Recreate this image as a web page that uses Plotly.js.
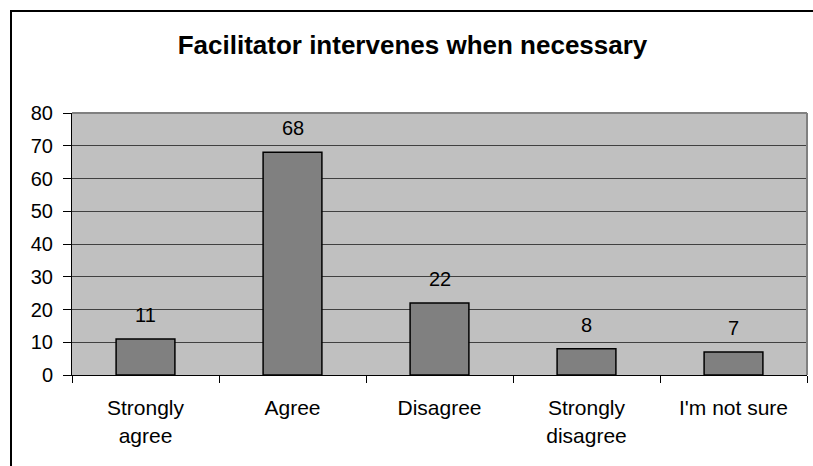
<!DOCTYPE html>
<html>
<head>
<meta charset="utf-8">
<script src="https://cdn.plot.ly/plotly-3.0.1.min.js"></script>
<style>
html,body{margin:0;padding:0;background:#fff;}
#chart{width:813px;height:466px;}
</style>
</head>
<body>
<div id="chart"></div>
<script>
const categories = ["Strongly<br>agree", "Agree", "Disagree", "Strongly<br>disagree", "I'm not sure"];
const values = [11, 68, 22, 8, 7];
const yTicks = [0, 10, 20, 30, 40, 50, 60, 70, 80];

const FONT = "Liberation Sans, Arial, sans-serif";

const trace = {
  type: "bar",
  x: categories,
  y: values,
  width: 0.4,
  marker: {color: "#808080", line: {color: "#000000", width: 1.5}},
  hoverinfo: "none"
};

const annotations = categories.map((c, i) => ({
  x: c, y: values[i], xref: "x", yref: "y",
  text: String(values[i]), showarrow: false,
  yanchor: "bottom", yshift: 11,
  font: {family: FONT, size: 20, color: "#000"}
}));

const px = (v) => (v - 72) / 735;
const py = (v) => (375 - v) / 262;

const shapes = [
  {type: "line", xref: "paper", yref: "paper", x0: 0, x1: 1, y0: 1, y1: 1, line: {color: "#808080", width: 2}},
  {type: "line", xref: "paper", yref: "paper", x0: 1, x1: 1, y0: 0, y1: 1, line: {color: "#808080", width: 2}},
  {type: "line", xref: "paper", yref: "paper", x0: px(11), x1: px(11), y0: py(470), y1: py(10), line: {color: "#000", width: 2}},
  {type: "line", xref: "paper", yref: "paper", x0: px(10), x1: px(820), y0: py(11), y1: py(11), line: {color: "#000", width: 2}}
];

const layout = {
  width: 813, height: 466,
  margin: {l: 72, r: 6, t: 113, b: 91, pad: 0},
  paper_bgcolor: "#ffffff",
  plot_bgcolor: "#c0c0c0",
  font: {family: FONT, size: 20, color: "#000"},
  title: {
    text: "<b>Facilitator intervenes when necessary</b>",
    font: {family: FONT, size: 26, color: "#000"},
    x: 412.5/813, xanchor: "center", xref: "container",
    y: 1 - 45/466, yanchor: "middle"
  },
  showlegend: false,
  bargap: 0.6,
  xaxis: {
    type: "category",
    tickson: "boundaries",
    ticks: "outside", ticklen: 7, tickcolor: "#000", tickwidth: 1,
    ticklabelstandoff: 14,
    showline: true, linecolor: "#000", linewidth: 1,
    showgrid: false, zeroline: false,
    tickfont: {family: FONT, size: 21, color: "#000"},
    fixedrange: true
  },
  yaxis: {
    range: [0, 80],
    tickvals: yTicks,
    ticks: "outside", ticklen: 8, tickcolor: "#000", tickwidth: 1,
    ticklabelstandoff: 6,
    showline: true, linecolor: "#000", linewidth: 1,
    showgrid: true, gridcolor: "#404040", gridwidth: 1,
    zeroline: false,
    tickfont: {family: FONT, size: 20, color: "#000"},
    fixedrange: true
  },
  shapes: shapes,
  annotations: annotations
};

Plotly.newPlot("chart", [trace], layout, {displayModeBar: false, staticPlot: true});
</script>
</body>
</html>
